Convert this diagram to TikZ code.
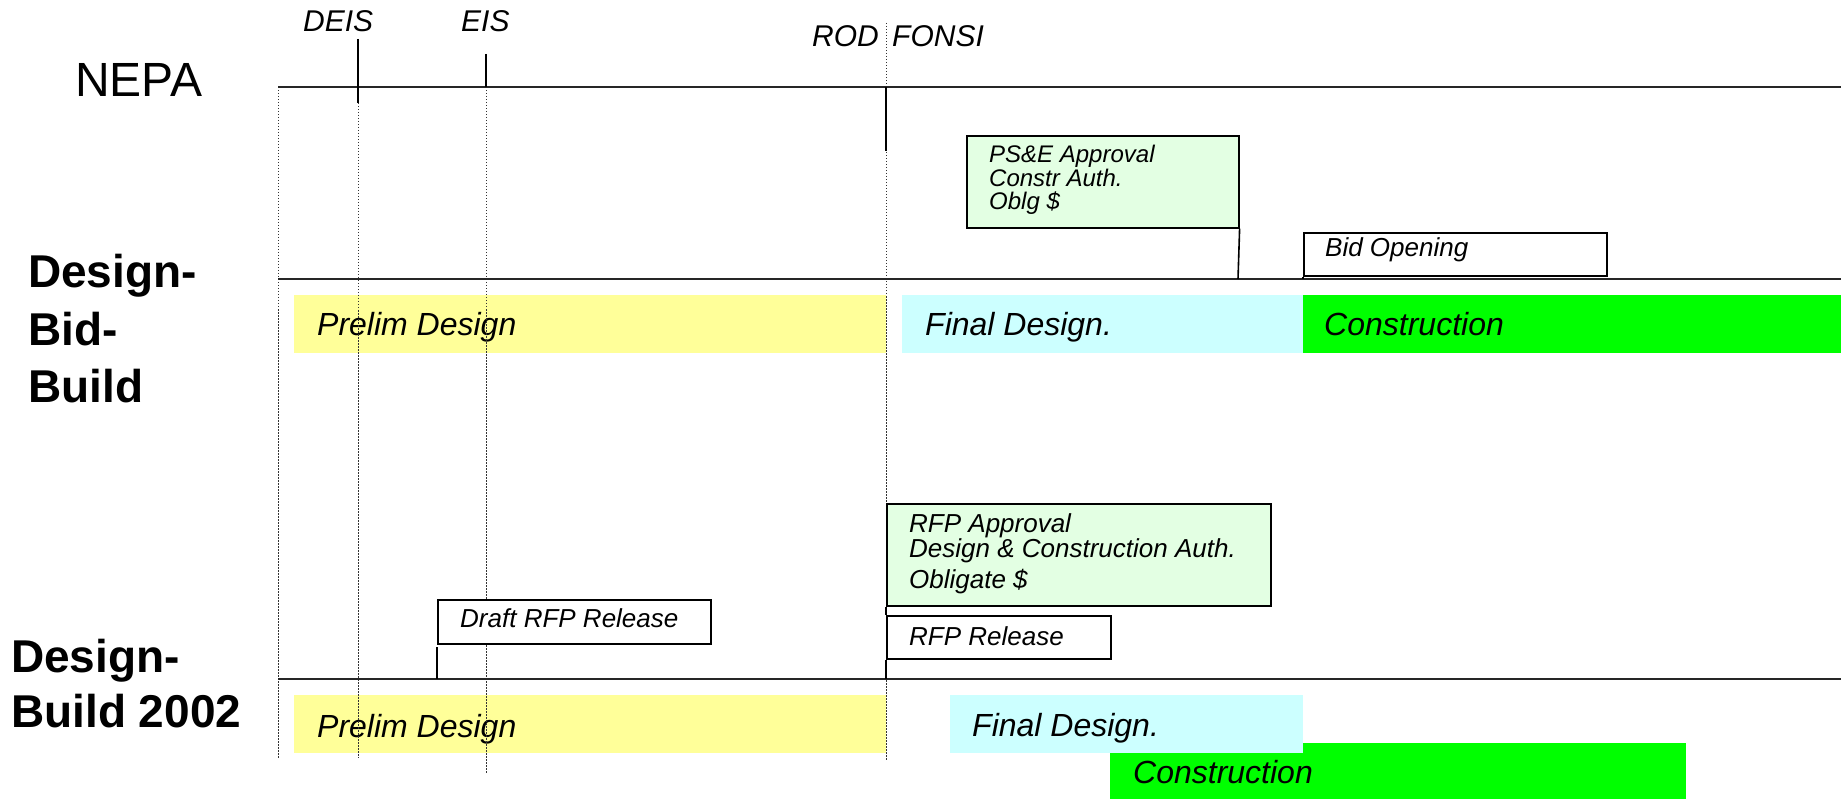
\documentclass[tikz,border=0pt]{standalone}
\usepackage{fontspec}
\setmainfont{Liberation Sans}
\definecolor{prelim}{HTML}{FFFF99}
\definecolor{final}{HTML}{CCFFFF}
\definecolor{constr}{HTML}{00FF00}
\definecolor{approval}{HTML}{E3FFE3}
\tikzset{
  timeline/.style={line width=2pt, black!85},
  guide/.style={line width=0.8pt, dash pattern=on 1.5pt off 1.5pt, black!80},
  tick/.style={line width=1.6pt},
  bar/.style={draw=none, inner sep=0pt, anchor=north west, minimum height=58pt},
  milestone/.style={draw, line width=1.6pt, inner sep=0pt, anchor=north west},
  barlabel/.style={inner sep=0pt, anchor=base west, font=\fontsize{32}{32}\selectfont\itshape},
  boxlabel/.style={inner sep=0pt, anchor=base west, font=\fontsize{26}{26}\selectfont\itshape},
  smalllabel/.style={inner sep=0pt, anchor=base west, font=\fontsize{24}{24}\selectfont\itshape},
  eventlabel/.style={inner sep=0pt, anchor=base west, font=\fontsize{30}{30}\selectfont\itshape},
  rowlabel/.style={inner sep=0pt, anchor=base west, font=\fontsize{46}{57}\selectfont\bfseries, align=left},
}
\begin{document}
\begin{tikzpicture}[x=1pt, y=-1pt]
\useasboundingbox (0,0) rectangle (1841,799);

% ---- row labels ----
\node[inner sep=0pt, anchor=base west, font=\fontsize{48}{48}\selectfont] (nepa) at (75,97) {NEPA};
\node[rowlabel] (dbb1) at (28,288) {Design-};
\node[rowlabel] (dbb2) at (28,345) {Bid-};
\node[rowlabel] (dbb3) at (28,402) {Build};
\node[rowlabel] (db1) at (11,672) {Design-};
\node[rowlabel] (db2) at (11,727) {Build 2002};

% ---- event labels ----
\node[eventlabel] (deis) at (303,32) {DEIS};
\node[eventlabel] (eis) at (461,32) {EIS};
\node[eventlabel] (rod) at (812,47) {ROD};
\node[eventlabel] (fonsi) at (892,47) {FONSI};

% ---- guide coordinates ----
\coordinate (gA1) at (278,87);   \coordinate (gA2) at (278,758);
\coordinate (gB1) at (358,103);  \coordinate (gB2) at (358,758);
\coordinate (gC1) at (486,87);   \coordinate (gC2) at (486,773);
\coordinate (gD1) at (886,23);   \coordinate (gD2) at (886,760);

% ---- bars, Design-Bid-Build ----
\node[bar, fill=prelim, minimum width=592pt] (pd1) at (294,295) {};
\node[bar, fill=final, minimum width=401pt] (fd1) at (902,295) {};
\node[bar, fill=constr, minimum width=538pt] (cn1) at (1303,295) {};
\node[barlabel] at (317,336) {Prelim Design};
\node[barlabel] at (925,336) {Final Design.};
\node[barlabel] at (1324,336) {Construction};

% ---- bars, Design-Build 2002 ----
\node[bar, fill=prelim, minimum width=592pt] (pd2) at (294,695) {};
\node[bar, fill=constr, minimum width=576pt, minimum height=56pt] (cn2) at (1110,743) {};
\node[bar, fill=final, minimum width=353pt] (fd2) at (950,695) {};
\node[barlabel] at (317,737) {Prelim Design};
\node[barlabel] at (972,736) {Final Design.};
\node[barlabel] at (1133,783) {Construction};

% ---- dotted guides ----
\draw[guide] (gA1) -- (gA2);
\draw[guide] (gB1) -- (gB2);
\draw[guide] (gC1) -- (gC2);
\draw[guide] (gD1) -- (gD2);

% ---- timelines ----
\coordinate (nepaL) at (278,87);  \coordinate (nepaR) at (1841,87);
\coordinate (dbbL) at (278,279);  \coordinate (dbbR) at (1841,279);
\coordinate (dbL) at (278,679);   \coordinate (dbR) at (1841,679);
\draw[timeline] (nepaL) -- (nepaR);
\draw[timeline] (dbbL) -- (dbbR);
\draw[timeline] (dbL) -- (dbR);

% ---- NEPA ticks ----
\coordinate (deisT) at (358,39);  \coordinate (deisB) at (358,103);
\coordinate (eisT) at (486,54);   \coordinate (eisB) at (486,87);
\coordinate (rodT) at (886,87);   \coordinate (rodB) at (886,151);
\draw[tick] (deisT) -- (deisB);
\draw[tick] (eisT) -- (eisB);
\draw[tick] (rodT) -- (rodB);

% ---- milestone boxes, Design-Bid-Build ----
\node[milestone, fill=approval, minimum width=272pt, minimum height=92pt] (pse) at (966,135) {};
\node[smalllabel] at (989,163) {PS\&E Approval};
\node[smalllabel] at (989,187) {Constr Auth.};
\node[smalllabel] at (989,210) {Oblg \$};
\node[milestone, fill=white, minimum width=303pt, minimum height=43pt] (bid) at (1303,232) {};
\node[boxlabel] at (1325,257) {Bid Opening};
\coordinate (pseF) at (1238,279);
\coordinate (bidF) at (1303,279);
\draw[tick] (pse.south east) -- (pseF);
\draw[tick] (bid.south west) -- (bidF);

% ---- milestone boxes, Design-Build 2002 ----
\node[milestone, fill=white, minimum width=273pt, minimum height=44pt] (draft) at (437,599) {};
\node[boxlabel] at (460,627) {Draft RFP Release};
\node[milestone, fill=approval, minimum width=384pt, minimum height=102pt] (rfpa) at (886,503) {};
\node[boxlabel] at (909,532) {RFP Approval};
\node[boxlabel] at (909,557) {Design \& Construction Auth.};
\node[boxlabel] at (909,588) {Obligate \$};
\node[milestone, fill=white, minimum width=224pt, minimum height=43pt] (rfpr) at (886,615) {};
\node[boxlabel] at (909,645) {RFP Release};
\coordinate (draftF) at (437,679);
\coordinate (draftS) at (437,647);
\coordinate (rfprF) at (886,679);
\draw[tick] (draftS) -- (draftF);
\draw[tick] (rfpa.south west) -- (rfpr.north west);
\draw[tick] (rfpr.south west) -- (rfprF);
\end{tikzpicture}
\end{document}
